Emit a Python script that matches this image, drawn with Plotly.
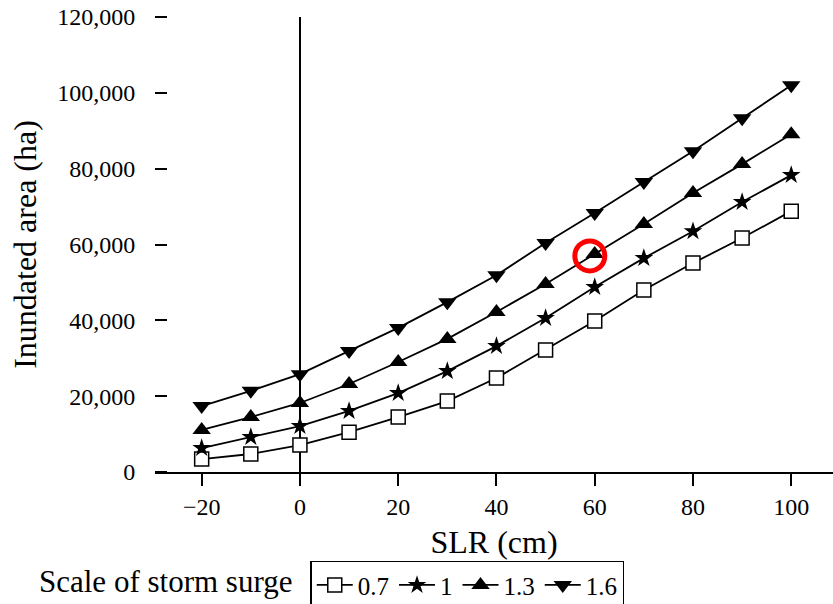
import plotly.graph_objects as go

# SLR (cm)
slr = [-20, -10, 0, 10, 20, 30, 40, 50, 60, 70, 80, 90, 100]

# Inundated area (ha) by scale of storm surge
scale_labels = ["0.7", "1", "1.3", "1.6"]
area_0_7 = [3400, 4750, 7100, 10500, 14500, 18700, 24800, 32200, 39800, 48000, 55100, 61700, 68800]
area_1_0 = [6300, 9200, 12100, 16100, 20800, 26600, 33200, 40600, 48800, 56400, 63500, 71200, 78300]
area_1_3 = [11100, 14500, 18200, 23200, 29000, 35100, 42200, 49600, 57500, 65400, 73600, 81200, 89100]
area_1_6 = [17400, 21400, 25800, 31900, 38000, 44800, 51900, 60400, 68300, 76500, 84600, 93300, 102000]

y_ticks = [0, 20000, 40000, 60000, 80000, 100000, 120000]
x_ticks = [-20, 0, 20, 40, 60, 80, 100]

# highlighted point (red ring)
highlight_slr = [59]
highlight_area = [57000]

FONT = "Liberation Serif"

series = [
    (scale_labels[0], area_0_7, dict(symbol="square", size=14, color="white", line=dict(color="black", width=1.5))),
    (scale_labels[1], area_1_0, dict(symbol="star", size=14, color="black", line=dict(color="black", width=0))),
    (scale_labels[2], area_1_3, dict(symbol="triangle-up", size=16, color="black", line=dict(color="black", width=0))),
    (scale_labels[3], area_1_6, dict(symbol="triangle-down", size=16, color="black", line=dict(color="black", width=0))),
]

fig = go.Figure()
for name, vals, mk in series:
    fig.add_trace(go.Scatter(
        x=slr, y=vals, name=name, mode="lines+markers",
        line=dict(color="black", width=1.8), marker=mk,
    ))

fig.add_trace(go.Scatter(
    x=highlight_slr, y=highlight_area, mode="markers", showlegend=False,
    marker=dict(symbol="circle-open", size=30, color="#ff0000", line=dict(color="#ff0000", width=5)),
    hoverinfo="skip",
))

fig.update_layout(
    width=833, height=604,
    margin=dict(l=155, r=0, t=17, b=132, autoexpand=False),
    plot_bgcolor="white", paper_bgcolor="white",
    showlegend=True,
    legend=dict(
        orientation="h", xref="paper", yref="paper",
        x=0.229, y=-0.195, xanchor="left", yanchor="top",
        bordercolor="black", borderwidth=1.5, bgcolor="white",
        font=dict(family=FONT, size=25, color="black"),
        itemwidth=36,
    ),
    annotations=[dict(
        text="Scale of storm surge", xref="paper", yref="paper",
        x=-0.174, y=-0.24, xanchor="left", yanchor="middle",
        showarrow=False, font=dict(family=FONT, size=31, color="black"),
    )],
)

fig.update_xaxes(
    domain=[0, 1],
    range=[-29.5, 108.5], tickvals=x_ticks,
    ticks="outside", ticklen=12, tickwidth=2, tickcolor="black",
    showline=True, linewidth=2, linecolor="black",
    zeroline=True, zerolinewidth=2, zerolinecolor="black",
    showgrid=False,
    tickfont=dict(family=FONT, size=24, color="black"),
    title=dict(text="SLR (cm)", font=dict(family=FONT, size=32, color="black"), standoff=12),
)
fig.update_yaxes(
    anchor="free", position=12 / 678,
    range=[0, 120000], tickvals=y_ticks, tickformat=",",
    ticks="outside", ticklen=12, tickwidth=2, tickcolor="black",
    showline=False, zeroline=False, showgrid=False,
    ticklabelstandoff=15,
    tickfont=dict(family=FONT, size=24, color="black"),
    title=dict(text="Inundated area (ha)", font=dict(family=FONT, size=32, color="black"), standoff=10),
)

fig.write_html("out.html")
